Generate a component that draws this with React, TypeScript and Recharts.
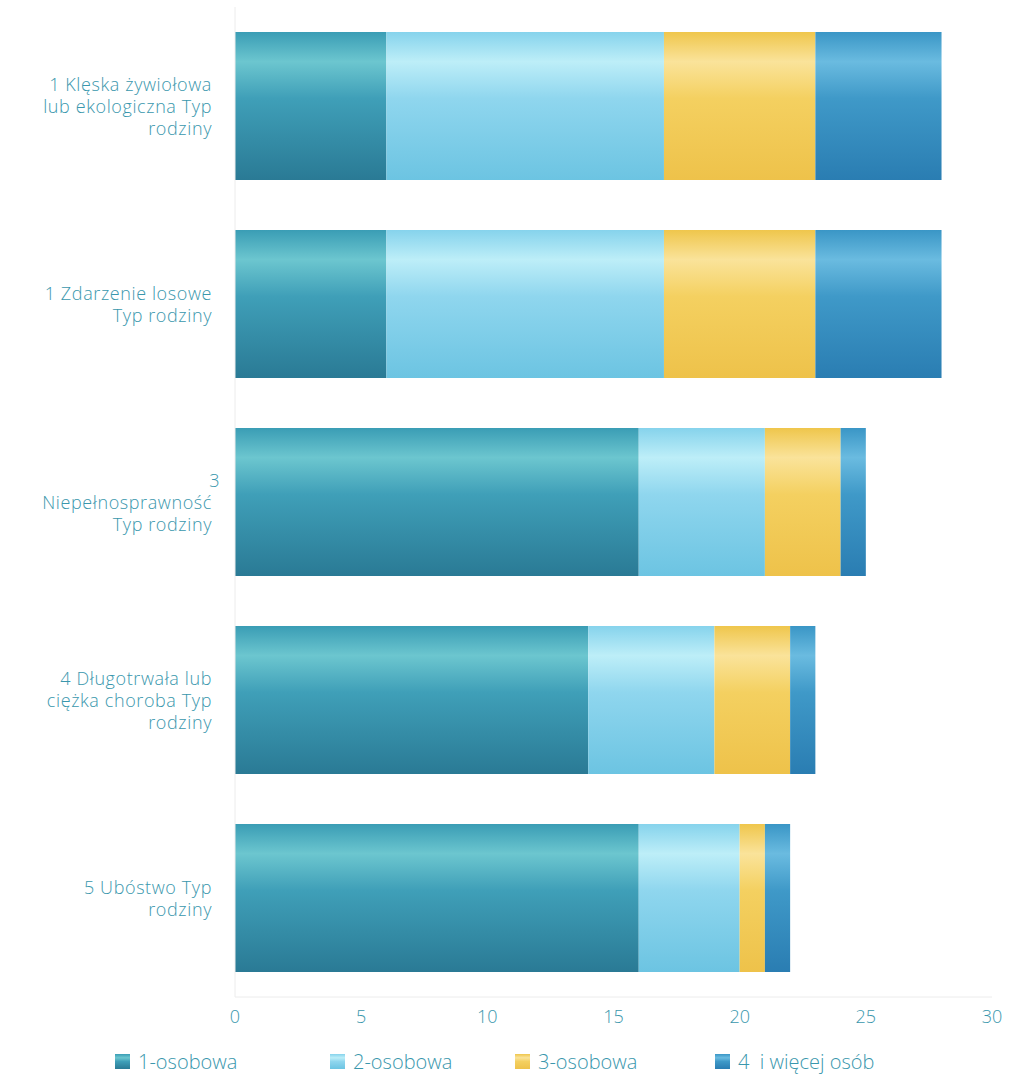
import { BarChart, Bar, XAxis, YAxis, Legend } from 'recharts';

const categories = [
    '1 Klęska żywiołowa\nlub ekologiczna Typ\nrodziny',
    '1 Zdarzenie losowe\nTyp rodziny',
    '3\nNiepełnosprawność\nTyp rodziny',
    '4 Długotrwała lub\nciężka choroba Typ\nrodziny',
    '5 Ubóstwo Typ\nrodziny',
];
const jednoosobowa = [6, 6, 16, 14, 16];
const dwuosobowa = [11, 11, 5, 5, 4];
const trzyosobowa = [6, 6, 3, 3, 1];
const czteroIWiecej = [5, 5, 1, 1, 1];
const xTicks = [0, 5, 10, 15, 20, 25, 30];

const seriesDefs = [
    { key: 'one', name: '1-osobowa', grad: 'g1' },
    { key: 'two', name: '2-osobowa', grad: 'g2' },
    { key: 'three', name: '3-osobowa', grad: 'g3' },
    { key: 'four', name: '4  i więcej osób', grad: 'g4' },
];

const data = categories.map((name, i) => ({
    name,
    one: jednoosobowa[i],
    two: dwuosobowa[i],
    three: trzyosobowa[i],
    four: czteroIWiecej[i],
}));

const TEXT = '#3a97ad';
const FONT = '"Open Sans", sans-serif';

function CategoryTick({ y, payload }: any) {
    const lines = String(payload.value).split('\n');
    const lh = 22;
    const start = y - ((lines.length - 1) * lh) / 2;
    return (
        <text x={212} y={start} textAnchor="end" fill={TEXT} fontSize={18} fontFamily={FONT} fontWeight={300} letterSpacing={0.6} dominantBaseline="central">
            {lines.map((l, i) => (
                <tspan key={i} x={l.length < 3 ? 220 : 212} y={start + i * lh}>{l}</tspan>
            ))}
        </text>
    );
}

const swatch: Record<string, string> = {
    g1: 'linear-gradient(#3a9db5, #6cc6cf 25%, #3f9fb8 50%, #2a7a95)',
    g2: 'linear-gradient(#86d3ec, #bdeef8 25%, #8fd6ee 50%, #6cc4e2)',
    g3: 'linear-gradient(#efc64c, #fae39a 25%, #f4d060 50%, #eec24a)',
    g4: 'linear-gradient(#3a96c6, #6abbe0 25%, #3f99c8 50%, #2a7db2)',
};

function LegendContent() {
    const lefts = [115, 330, 515, 715];
    return (
        <div style={{ position: 'relative', height: 50, fontFamily: FONT, fontSize: 20, fontWeight: 300, color: TEXT }}>
            {seriesDefs.map((s, i) => (
                <div key={s.key} style={{ position: 'absolute', left: lefts[i], top: 21, display: 'flex', alignItems: 'center', whiteSpace: 'pre' }}>
                    <span style={{ width: 15, height: 15, background: swatch[s.grad], marginRight: 8, display: 'inline-block' }} />
                    {s.name}
                </div>
            ))}
        </div>
    );
}

export default function App() {
    return (
        <div style={{ position: 'absolute', left: 0, top: 0, width: 1010, height: 1077, background: '#fff' }}>
            <BarChart
                width={1010}
                height={1077}
                data={data}
                layout="vertical"
                barCategoryGap={25}
                margin={{ top: 7, right: 18, left: 0, bottom: 0 }}
            >
                <defs>
                    <linearGradient id="g1" x1="0" y1="0" x2="0" y2="1">
                        <stop offset="0%" stopColor="#3a9db5" />
                        <stop offset="20%" stopColor="#6cc6cf" />
                        <stop offset="45%" stopColor="#3f9fb8" />
                        <stop offset="100%" stopColor="#2a7a95" />
                    </linearGradient>
                    <linearGradient id="g2" x1="0" y1="0" x2="0" y2="1">
                        <stop offset="0%" stopColor="#86d3ec" />
                        <stop offset="20%" stopColor="#bdeef8" />
                        <stop offset="45%" stopColor="#8fd6ee" />
                        <stop offset="100%" stopColor="#6cc4e2" />
                    </linearGradient>
                    <linearGradient id="g3" x1="0" y1="0" x2="0" y2="1">
                        <stop offset="0%" stopColor="#efc64c" />
                        <stop offset="20%" stopColor="#fae39a" />
                        <stop offset="45%" stopColor="#f4d060" />
                        <stop offset="100%" stopColor="#eec24a" />
                    </linearGradient>
                    <linearGradient id="g4" x1="0" y1="0" x2="0" y2="1">
                        <stop offset="0%" stopColor="#3a96c6" />
                        <stop offset="20%" stopColor="#6abbe0" />
                        <stop offset="45%" stopColor="#3f99c8" />
                        <stop offset="100%" stopColor="#2a7db2" />
                    </linearGradient>
                </defs>
                <XAxis
                    type="number"
                    domain={[0, 30]}
                    ticks={xTicks}
                    height={30}
                    axisLine={{ stroke: '#ececec' }}
                    tickLine={false}
                    tick={{ fontSize: 18, fill: TEXT, fontFamily: FONT, fontWeight: 300 }}
                    tickMargin={7}
                />
                <YAxis
                    type="category"
                    dataKey="name"
                    width={235}
                    axisLine={{ stroke: '#ececec' }}
                    tickLine={false}
                    tick={<CategoryTick />}
                    interval={0}
                />
                <Legend verticalAlign="bottom" height={50} content={<LegendContent />} />
                {seriesDefs.map((s) => (
                    <Bar key={s.key} dataKey={s.key} name={s.name} stackId="a" fill={`url(#${s.grad})`} isAnimationActive={false} />
                ))}
            </BarChart>
        </div>
    );
}
